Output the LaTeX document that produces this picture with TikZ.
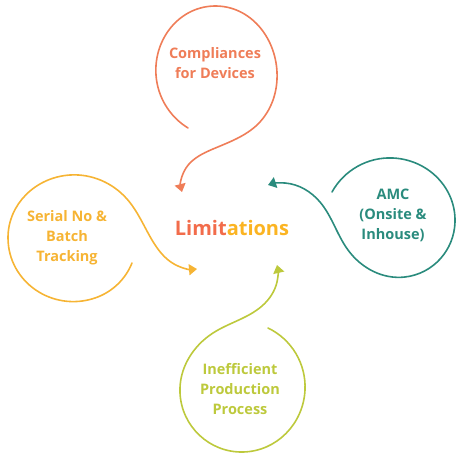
\documentclass[tikz,border=0pt]{standalone}
\usepackage{fontspec}
\setmainfont{Open Sans}
\usetikzlibrary{arrows.meta,hobby}
\definecolor{coral}{HTML}{EF7D58}
\definecolor{limcoral}{HTML}{F26C4B}
\definecolor{amber}{HTML}{F6B434}
\definecolor{limamber}{HTML}{FBB422}
\definecolor{teal}{HTML}{2A8B7D}
\definecolor{lime}{HTML}{BDC93C}
\tikzset{
  loop/.style={line width=1.6pt, line cap=round, use Hobby shortcut, -{Triangle[width=11pt,length=8pt]}},
  lbl/.style={font=\bfseries\fontsize{14.5}{20}\selectfont, align=center, inner sep=0pt}
}
\begin{document}
\begin{tikzpicture}[x=1pt,y=-1pt]
\useasboundingbox (0,0) rectangle (462,455);
% text nodes
\node[lbl, text=coral] (comp) at (215,63) {Compliances\\for Devices};
\node[lbl, text=amber] (serial) at (67,238) {Serial No \&\\Batch\\Tracking};
\node[lbl, text=teal] (amc) at (393,215) {AMC\\(Onsite \&\\Inhouse)};
\node[lbl, text=lime] (ineff) at (240,389) {Inefficient\\Production\\Process};
\node[inner sep=0pt, font=\bfseries\fontsize{20}{24}\selectfont] (lim) at (232,228) {\textcolor{limcoral}{Limit}\textcolor{limamber}{ations}};
% connector endpoints
\coordinate (compS) at (188,128);
\coordinate (compT) at (182,192);
\coordinate (serS) at (132,263);
\coordinate (serT) at (197,269);
\coordinate (amcS) at (332,192);
\coordinate (amcT) at (268,185);
\coordinate (infS) at (268,328);
\coordinate (infT) at (277,265);
% loops
\draw[loop, coral] (compS) .. (156,75) .. (216,6) .. (277,72) .. (258,124) .. (213,149) .. (186,168) .. (compT);
\draw[loop, amber] (serS) .. (95,298) .. (8,238) .. (70,175) .. (127,199) .. (152,240) .. (174,264) .. (serT);
\draw[loop, teal] (amcS) .. (393,158) .. (455,222) .. (405,277) .. (348,250) .. (320,202) .. (285,183) .. (amcT);
\draw[loop, lime] (infS) .. (305,390) .. (243,452) .. (180,393) .. (213,333) .. (262,306) .. (277,282) .. (infT);
\end{tikzpicture}
\end{document}
